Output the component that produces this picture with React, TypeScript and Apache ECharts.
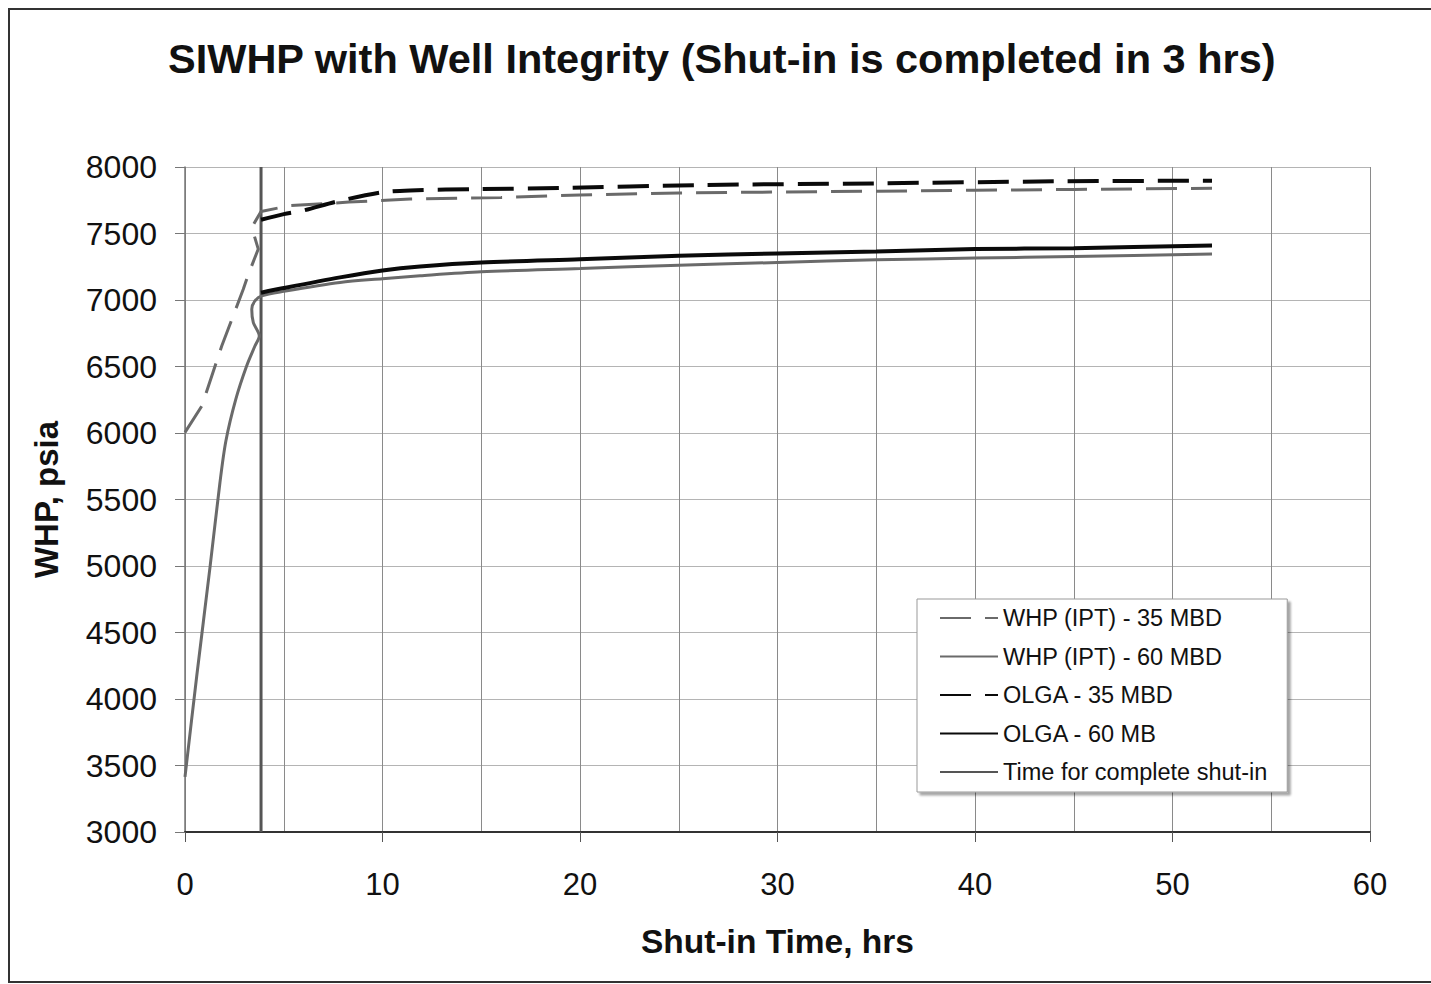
import React, { useEffect, useRef } from "react";
import * as echarts from "echarts";

const titleText = "SIWHP with Well Integrity (Shut-in is completed in 3 hrs)";
const xName = "Shut-in Time, hrs";
const yName = "WHP, psia";
const seriesNames = [
  "WHP (IPT) - 35 MBD",
  "WHP (IPT) - 60 MBD",
  "OLGA - 35 MBD",
  "OLGA - 60 MB",
  "Time for complete shut-in",
];

// [time (hrs), WHP (psia)]
const iptMbd35 = [
  [0, 6005], [0.85, 6203], [1.86, 6654], [2.95, 7081], [3.21, 7194], [3.71, 7383],
  [3.38, 7546], [3.85, 7666], [5.3, 7709], [8.3, 7736], [11.4, 7759], [16, 7771],
  [20, 7790], [25, 7805], [30, 7812], [35, 7818], [40, 7825], [45, 7831], [52, 7840],
];
const iptMbd60 = [
  [0, 3414], [0.59, 4167], [1.27, 4995], [1.77, 5628], [2.07, 5940], [2.57, 6253],
  [3.12, 6504], [3.54, 6654], [3.76, 6730], [3.46, 6830], [3.38, 6931], [3.54, 6993],
  [3.88, 7031], [5, 7065], [7.85, 7132], [10, 7160], [11.9, 7182], [15, 7212],
  [20, 7237], [25, 7262], [30, 7282], [35, 7302], [40, 7315], [45, 7327], [52, 7345],
];
const olgaMbd35 = [
  [3.85, 7603], [5, 7646], [6, 7673], [7.7, 7741], [10, 7810], [11.4, 7824], [15, 7834],
  [19, 7842], [26, 7864], [35, 7877], [44, 7892], [52, 7897],
];
const olgaMb60 = [
  [3.85, 7055], [5, 7090], [7.85, 7170], [10, 7222], [11.9, 7252], [15, 7282], [20, 7307],
  [25, 7332], [30, 7350], [35, 7365], [40, 7383], [45, 7390], [52, 7410],
];
const shutInLine = [[3.85, 3000], [3.85, 8000]];

const FONT = "'Liberation Sans', Arial, Helvetica, sans-serif";

export default function App() {
  const ref = useRef<HTMLDivElement>(null);
  useEffect(() => {
    if (!ref.current) return;
    const chart = echarts.init(ref.current, null, { renderer: "svg" });
    const gray = "#6a6a6a";
    const black = "#0a0a0a";
    chart.setOption({
      animation: false,
      backgroundColor: "#ffffff",
      textStyle: { fontFamily: FONT },
      title: {
        text: titleText,
        left: 163,
        top: 32,
        textStyle: { fontFamily: FONT, fontSize: 41.5, fontWeight: "bold", color: "#111" },
      },
      graphic: [
        {
          type: "rect",
          shape: { x: 9, y: 9, width: 1440, height: 973 },
          style: { fill: "none", stroke: "#333", lineWidth: 2 },
          silent: true,
        },
      ],
      grid: { left: 185, top: 167, width: 1185, height: 665, show: false },
      xAxis: {
        type: "value",
        min: 0,
        max: 60,
        interval: 10,
        name: xName,
        nameLocation: "middle",
        nameGap: 92,
        nameTextStyle: { fontFamily: FONT, fontSize: 33.5, fontWeight: "bold", color: "#111" },
        axisLine: { show: true, onZero: false, lineStyle: { color: "#333", width: 2 } },
        axisTick: { show: true, length: 10, lineStyle: { color: "#555", width: 1 } },
        axisLabel: { fontFamily: FONT, fontSize: 31, color: "#111", margin: 37 },
        splitLine: { show: true, lineStyle: { color: "#8a8a8a", width: 1 } },
        minorTick: { show: false, splitNumber: 2 },
        minorSplitLine: { show: true, lineStyle: { color: "#8a8a8a", width: 1 } },
      },
      yAxis: {
        type: "value",
        min: 3000,
        max: 8000,
        interval: 500,
        name: yName,
        nameLocation: "middle",
        nameGap: 122,
        nameTextStyle: { fontFamily: FONT, fontSize: 33, fontWeight: "bold", color: "#111" },
        axisLine: { show: true, lineStyle: { color: "#777", width: 1.5 } },
        axisTick: { show: true, length: 10, lineStyle: { color: "#777", width: 1 } },
        axisLabel: {
          fontFamily: FONT,
          fontSize: 32,
          color: "#111",
          margin: 28,
          formatter: (v: number) => String(v),
        },
        splitLine: { show: true, lineStyle: { color: "#b4b4b4", width: 1 } },
      },
      legend: {
        orient: "vertical",
        left: 917,
        top: 599,
        padding: [7, 20, 8, 22],
        itemWidth: 58,
        itemHeight: 24,
        itemGap: 14.5,
        backgroundColor: "#ffffff",
        borderColor: "#999",
        borderWidth: 1,
        shadowColor: "rgba(0,0,0,0.35)",
        shadowOffsetX: 3,
        shadowOffsetY: 3,
        shadowBlur: 2,
        itemStyle: { opacity: 0 },
        textStyle: { fontFamily: FONT, fontSize: 23.5, color: "#111", lineHeight: 24 },
        data: seriesNames,
      },
      series: [
        {
          name: seriesNames[0],
          type: "line",
          data: iptMbd35,
          symbol: "none",
          smooth: false,
          lineStyle: { color: gray, width: 3, type: [31, 14] },
          itemStyle: { color: gray },
          z: 3,
        },
        {
          name: seriesNames[1],
          type: "line",
          data: iptMbd60,
          symbol: "none",
          smooth: 0.3,
          lineStyle: { color: gray, width: 3 },
          itemStyle: { color: gray },
          z: 3,
        },
        {
          name: seriesNames[2],
          type: "line",
          data: olgaMbd35,
          symbol: "none",
          smooth: 0.3,
          lineStyle: { color: black, width: 4, type: [31, 14] },
          itemStyle: { color: black },
          z: 4,
        },
        {
          name: seriesNames[3],
          type: "line",
          data: olgaMb60,
          symbol: "none",
          smooth: 0.3,
          lineStyle: { color: black, width: 4 },
          itemStyle: { color: black },
          z: 4,
        },
        {
          name: seriesNames[4],
          type: "line",
          data: shutInLine,
          symbol: "none",
          lineStyle: { color: "#555", width: 3 },
          itemStyle: { color: "#555" },
          z: 2,
        },
      ],
    });
    return () => chart.dispose();
  }, []);
  return (
    <div
      ref={ref}
      style={{ position: "absolute", left: 0, top: 0, width: 1431, height: 984 }}
    />
  );
}
